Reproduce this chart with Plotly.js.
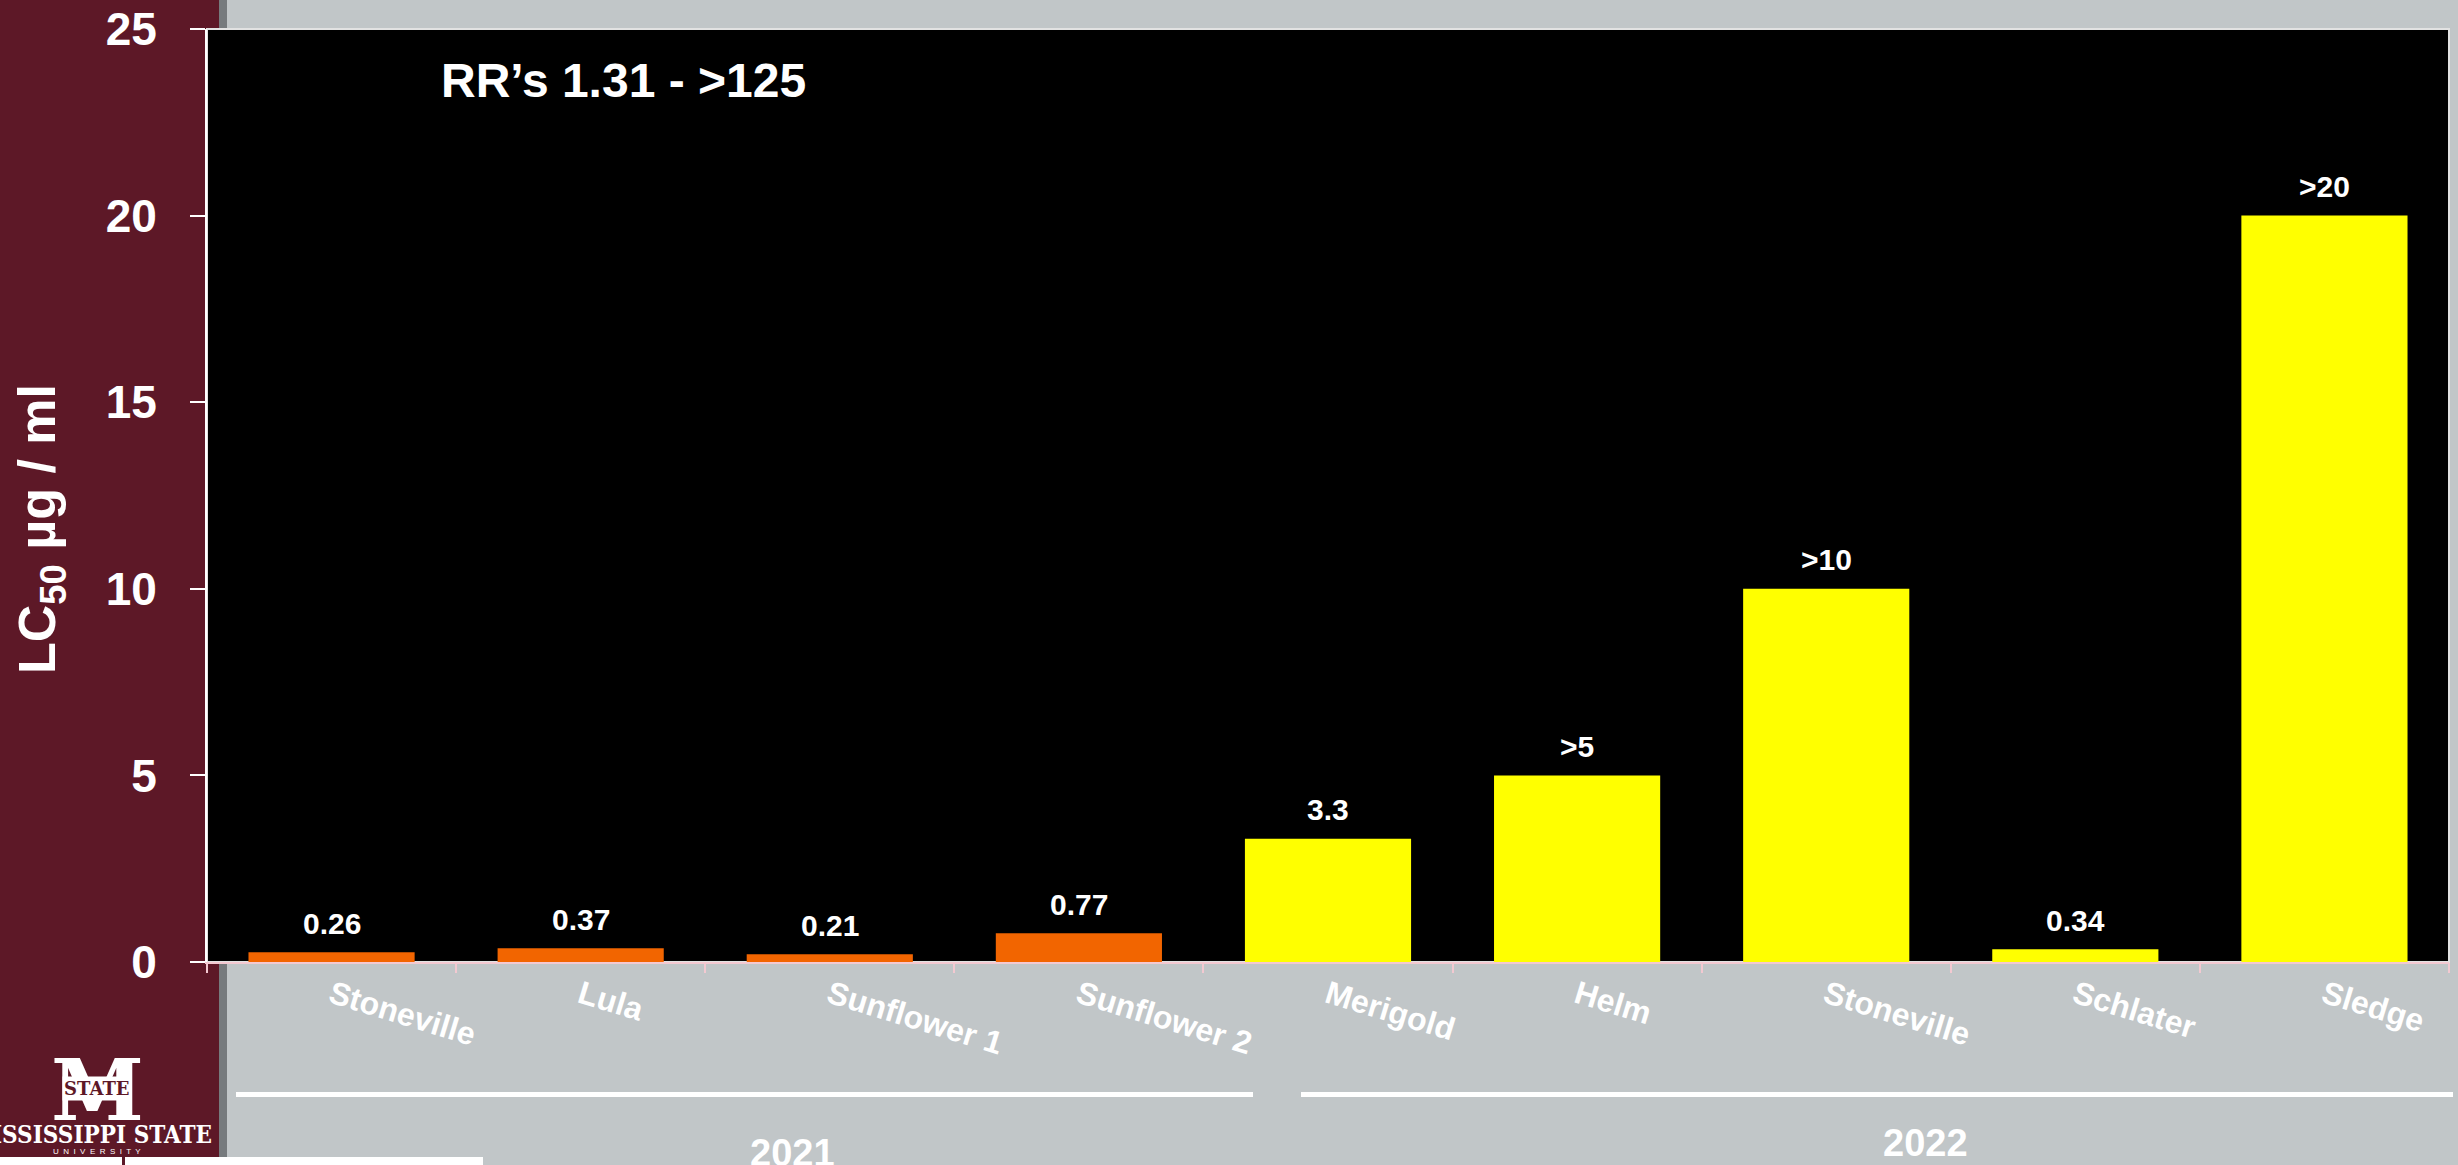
<!DOCTYPE html>
<html><head><meta charset="utf-8">
<script src="https://cdn.plot.ly/plotly-3.0.1.min.js"></script>
<style>html,body{margin:0;padding:0;background:#C1C6C8;overflow:hidden;} #chart{width:2458px;height:1165px;}</style>
</head><body><div id="chart"></div>
<script>
// ---- data ----
const sites = ['Stoneville','Lula','Sunflower 1','Sunflower 2','Merigold','Helm','Stoneville','Schlater','Sledge'];
const years = ['2021','2021','2021','2021','2022','2022','2022','2022','2022'];
const lc50 = [0.26, 0.37, 0.21, 0.77, 3.3, 5, 10, 0.34, 20];
const valueLabels = ['0.26','0.37','0.21','0.77','3.3','>5','>10','0.34','>20'];
const yTicks = [0, 5, 10, 15, 20, 25];
const groupNames = ['2021','2022'];
const noteText = 'RR’s 1.31 - >125';
const yTitle = 'LC<sub>50</sub> µg / ml';

// ---- styling / layout ----
const yearColors = {'2021':'#F26500','2022':'#FFFF00'};
const W = 2458, H = 1165;
const M = {l:207, r:9, t:29, b:203};
const PW = W - M.l - M.r, PH = H - M.t - M.b;
const px = x => (x - M.l) / PW;
const py = y => (M.t + PH - y) / PH;
const FONT = 'Liberation Sans, Arial, Helvetica, sans-serif';
const MAROON = '#5D1827', LGREY = '#C1C6C8', DGREY = '#767A7D', PINK = '#F3C9D1';

const xPos = sites.map((_, i) => i);
const bounds = xPos.map(i => i - 0.5).concat([xPos.length - 0.5]);

const traces = [{
  type: 'bar', x: xPos, y: lc50, width: 0.667,
  marker: {color: years.map(y => yearColors[y]), line: {width: 0}},
  hoverinfo: 'skip', xaxis: 'x', yaxis: 'y'
}];

function rect(x0, x1, y0, y1, color, layer) {
  return {type:'rect', xref:'paper', yref:'paper', x0:px(x0), x1:px(x1), y0:py(y1), y1:py(y0),
          fillcolor: color, line:{width:0}, layer: layer || 'below'};
}
const shapes = [
  rect(0, 207, 0, H, MAROON),
  rect(207, 219, 0, M.t, MAROON),
  rect(207, 219, M.t + PH, H, MAROON),
  rect(219, 227, 0, M.t, DGREY),
  rect(219, 227, M.t + PH, H, DGREY),
  {type:'rect', xref:'paper', yref:'paper', x0:0, x1:1, y0:0, y1:1, fillcolor:'rgba(0,0,0,0)',
   line:{color:'#E2E2E2', width:2}, layer:'below'},
  // group underlines
  {type:'line', xref:'paper', yref:'paper', x0:px(236), x1:px(1253), y0:py(1094.5), y1:py(1094.5), line:{color:'#FFFFFF', width:5}},
  {type:'line', xref:'paper', yref:'paper', x0:px(1301), x1:px(2453), y0:py(1094.5), y1:py(1094.5), line:{color:'#FFFFFF', width:5}},
  rect(0, 483, 1157, H, '#FFFFFF', 'above'),
  rect(122, 125, 1155, H, MAROON, 'above')
];

const annotations = [];
xPos.forEach(i => annotations.push({
  x: i, y: lc50[i], xref:'x', yref:'y', text: valueLabels[i], showarrow:false,
  xanchor:'center', yanchor:'middle', yshift: 29,
  font:{family:FONT, size:30, color:'#FFFFFF', weight:700}
}));
annotations.push({
  x: px(439), y: py(80), xref:'paper', yref:'paper', text: noteText, showarrow:false,
  xanchor:'left', yanchor:'middle', font:{family:FONT, size:48, color:'#FFFFFF', weight:700}
});
annotations.push({
  x: px(41), y: py(529), xref:'paper', yref:'paper', text: yTitle, showarrow:false, textangle:-90,
  xanchor:'center', yanchor:'middle', font:{family:FONT, size:52, color:'#FFFFFF', weight:700}
});
const groupPos = [[792, 1153], [1925, 1143]];
groupNames.forEach((g, k) => annotations.push({
  x: px(groupPos[k][0]), y: py(groupPos[k][1]), xref:'paper', yref:'paper', text: g, showarrow:false,
  xanchor:'center', yanchor:'middle', font:{family:FONT, size:38, color:'#FFFFFF', weight:700}
}));
// university logo (text approximation)
annotations.push({
  x: px(97), y: py(1090), xref:'paper', yref:'paper', text:'M', showarrow:false,
  xanchor:'center', yanchor:'middle', font:{family:'DejaVu Serif, serif', size:84, color:'#FFFFFF', weight:700}
});
annotations.push({
  x: px(97), y: py(1088), xref:'paper', yref:'paper', text:'STATE', showarrow:false,
  xanchor:'center', yanchor:'middle', bgcolor:'#FFFFFF', borderpad:1,
  font:{family:'DejaVu Serif, serif', size:18, color:MAROON, weight:700}
});
annotations.push({
  x: px(214), y: py(1134), xref:'paper', yref:'paper', text:'MISSISSIPPI STATE', showarrow:false,
  xanchor:'right', yanchor:'middle', font:{family:'DejaVu Serif Condensed, DejaVu Serif, serif', size:24, color:'#FFFFFF', weight:700}
});
annotations.push({
  x: px(97), y: py(1151), xref:'paper', yref:'paper', text:'U  N  I  V  E  R  S  I  T  Y', showarrow:false,
  xanchor:'center', yanchor:'middle', font:{family:FONT, size:8, color:'#FFFFFF', weight:400}
});

const layout = {
  width: W, height: H,
  margin: M,
  paper_bgcolor: LGREY, plot_bgcolor: '#000000',
  showlegend: false,
  xaxis: {
    range:[-0.5, xPos.length - 0.5], tickvals: xPos, ticktext: sites, tickangle: 17,
    ticks:'', showline:true, linecolor: PINK, linewidth:2, showgrid:false, zeroline:false,
    automargin:false, tickfont:{family:FONT, size:32, color:'#FFFFFF', weight:700}
  },
  xaxis2: {
    overlaying:'x', anchor:'y', side:'bottom', range:[-0.5, xPos.length - 0.5], tickvals: bounds,
    ticks:'outside', ticklen:10, tickwidth:2, tickcolor: PINK, showticklabels:false,
    showgrid:false, zeroline:false, showline:false, automargin:false
  },
  yaxis: {
    range:[0, 25], tickvals: yTicks, ticks:'outside', ticklen:15, tickwidth:2, tickcolor:'#FFFFFF',
    showline:true, linecolor:'#FFFFFF', linewidth:2, showgrid:false, zeroline:false,
    automargin:false, ticklabelstandoff: 24,
    tickfont:{family:FONT, size:46, color:'#FFFFFF', weight:700}
  },
  shapes: shapes,
  annotations: annotations
};

traces.push({type:'scatter', x:[bounds[0]], y:[0], xaxis:'x2', yaxis:'y', mode:'markers',
  marker:{opacity:0}, hoverinfo:'skip', showlegend:false});

Plotly.newPlot('chart', traces, layout, {staticPlot:true, displayModeBar:false});
</script>
</body></html>
